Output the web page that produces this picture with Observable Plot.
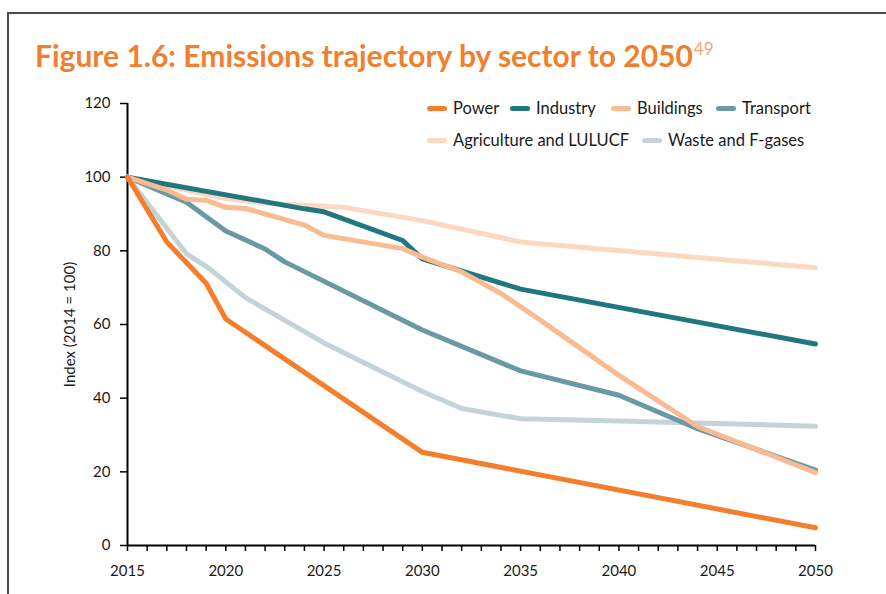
<!DOCTYPE html>
<html>
<head>
<meta charset="utf-8">
<script src="https://cdn.jsdelivr.net/npm/d3@7"></script>
<script src="https://cdn.jsdelivr.net/npm/@observablehq/plot@0.6"></script>
<style>
  html, body { margin: 0; padding: 0; background: #fff; }
  body { width: 886px; height: 594px; position: relative; overflow: hidden; font-family: Lato, "Open Sans", sans-serif; }
  #frame { position: absolute; left: 7px; top: 12px; width: 900px; height: 600px; border-top: 2px solid #4a4a4a; border-left: 2px solid #4a4a4a; box-sizing: border-box; }
  #title { position: absolute; left: 35px; top: 37px; font-size: 30px; font-weight: 700; color: #F07F2F; white-space: nowrap; letter-spacing: 0px; line-height: 36px; }
  #title sup { font-size: 17px; font-weight: 400; color: #F7A46B; vertical-align: 0; position: relative; top: -12px; margin-left: 1px; }
  #chart { position: absolute; left: 0; top: 85px; }
  .leg { position: absolute; font-size: 16.5px; color: #1a1a1a; display: flex; align-items: center; white-space: nowrap; }
  .sw { width: 20px; height: 5px; border-radius: 3px; margin-right: 6px; }
</style>
</head>
<body>
<div id="frame"></div>
<div id="title">Figure 1.6: Emissions trajectory by sector to 2050<sup>49</sup></div>
<div id="chart"></div>
<div id="legend"></div>
<script>
const sectors = ["Power", "Industry", "Buildings", "Transport", "Agriculture and LULUCF", "Waste and F-gases"];
const colors  = ["#F47E2C", "#22777F", "#F9BB92", "#6A98A5", "#FDD8C0", "#C5D3D8"];

const powerYears = [2015, 2017, 2019, 2020, 2030, 2050];
const powerVals  = [100, 82.4, 71.2, 61.5, 25.3, 4.8];

const industryYears = [2015, 2024, 2025, 2029, 2030, 2035, 2050];
const industryVals  = [100, 91.4, 90.6, 82.8, 77.8, 69.6, 54.7];

const buildingsYears = [2015, 2017, 2018, 2019, 2020, 2021, 2024, 2025, 2029, 2030, 2032, 2034, 2036, 2040, 2044, 2050];
const buildingsVals  = [100, 96.5, 94.0, 93.7, 91.8, 91.5, 87.0, 84.2, 80.6, 78.3, 74.3, 68.4, 61.2, 46.2, 32.3, 19.8];

const transportYears = [2015, 2018, 2020, 2022, 2023, 2030, 2035, 2040, 2044, 2050];
const transportVals  = [100, 93.2, 85.4, 80.5, 77.0, 58.5, 47.4, 40.8, 31.7, 20.5];

const agricultureYears = [2015, 2020, 2022, 2026, 2030, 2035, 2050];
const agricultureVals  = [100, 94.2, 92.9, 91.8, 88.2, 82.4, 75.4];

const wasteYears = [2015, 2018, 2019, 2021, 2025, 2030, 2032, 2035, 2040, 2050];
const wasteVals  = [100, 79.2, 75.8, 67.3, 55.0, 41.8, 37.2, 34.4, 33.8, 32.4];

const yTicks = [0, 20, 40, 60, 80, 100, 120];
const xLabelYears = [2015, 2020, 2025, 2030, 2035, 2040, 2045, 2050];

const seriesList = [
  [sectors[0], powerYears, powerVals],
  [sectors[1], industryYears, industryVals],
  [sectors[2], buildingsYears, buildingsVals],
  [sectors[3], transportYears, transportVals],
  [sectors[4], agricultureYears, agricultureVals],
  [sectors[5], wasteYears, wasteVals]
];
// draw order: lighter series underneath
const drawOrder = [5, 4, 3, 1, 2, 0];
const rows = [];
for (const i of drawOrder) {
  const [name, ys, vs] = seriesList[i];
  ys.forEach((y, k) => rows.push({sector: name, year: y, value: vs[k]}));
}

const allYears = d3.range(2015, 2051);

const chart = Plot.plot({
  width: 886,
  height: 509,
  marginTop: 18,
  marginRight: 71,
  marginBottom: 49,
  marginLeft: 127,
  style: {fontFamily: "Lato, 'Open Sans', sans-serif", fontSize: "15px", color: "#1a1a1a", background: "transparent"},
  x: {domain: [2015, 2050]},
  y: {domain: [0, 120]},
  color: {domain: sectors, range: colors},
  marks: [
    Plot.axisX({ticks: allYears, tickSize: 6, tickPadding: 14, stroke: "#000", strokeWidth: 1.5,
      tickFormat: d => xLabelYears.includes(d) ? String(d) : "", fontSize: 15, label: null}),
    Plot.axisY({ticks: yTicks, tickSize: 7, tickPadding: 10, stroke: "#000", strokeWidth: 1.5, fontSize: 15,
      label: "Index (2014 = 100)", labelAnchor: "center", labelArrow: "none", labelOffset: 63}),
    Plot.ruleY([0], {stroke: "#000", strokeWidth: 2}),
    Plot.ruleX([2015], {stroke: "#000", strokeWidth: 2}),
    Plot.line(rows, {x: "year", y: "value", z: "sector", stroke: "sector", strokeWidth: 5,
      strokeLinecap: "round", strokeLinejoin: "round"})
  ]
});
document.getElementById("chart").appendChild(chart);

// legend (HTML, laid out in two rows as in the reference)
const legPos = [
  {left: 427, top: 108}, {left: 510, top: 108}, {left: 611, top: 108}, {left: 716, top: 108},
  {left: 427, top: 140}, {left: 642, top: 140}
];
const legend = document.getElementById("legend");
sectors.forEach((s, i) => {
  const d = document.createElement("div");
  d.className = "leg";
  d.style.left = legPos[i].left + "px";
  d.style.top = (legPos[i].top - 10) + "px";
  d.style.height = "20px";
  const sw = document.createElement("span");
  sw.className = "sw";
  sw.style.background = colors[i];
  const t = document.createElement("span");
  t.textContent = s;
  d.appendChild(sw); d.appendChild(t);
  legend.appendChild(d);
});
</script>
</body>
</html>
